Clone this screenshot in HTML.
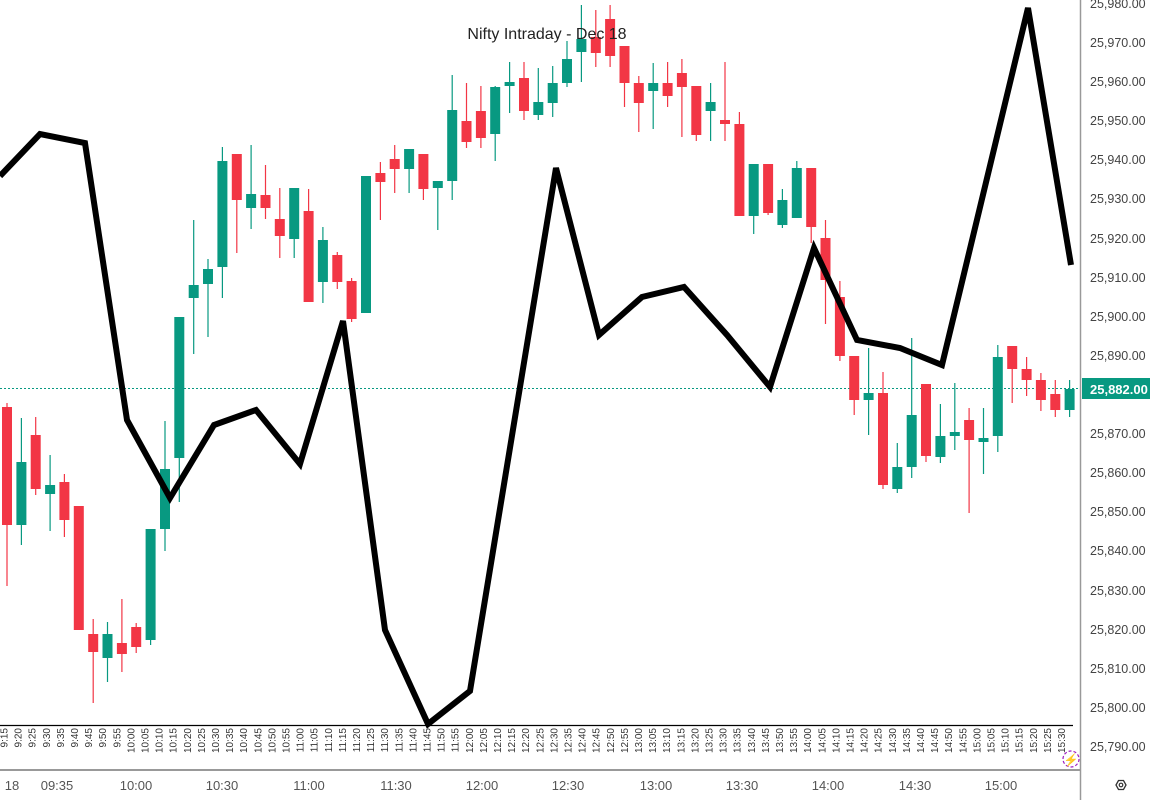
<!DOCTYPE html>
<html><head><meta charset="utf-8"><style>
html,body{margin:0;padding:0;background:#fff;width:1150px;height:800px;overflow:hidden}
svg{display:block;font-family:"Liberation Sans",sans-serif}
.r line{stroke:#F23645;stroke-width:1.2}.r rect{fill:#F23645}
.g line{stroke:#089981;stroke-width:1.2}.g rect{fill:#089981}
.ax{font-size:12.5px;fill:#444}
.rt{font-size:10px;fill:#333}
.bt{font-size:13px;fill:#555}
</style></head><body>
<svg width="1150" height="800" viewBox="0 0 1150 800" xmlns="http://www.w3.org/2000/svg">
<rect width="1150" height="800" fill="#fff"/>
<line x1="0" y1="388.5" x2="1080" y2="388.5" stroke="#089981" stroke-width="1" stroke-dasharray="2,2"/>
<g id="c"></g>
<g class="r"><line x1="7" y1="403" x2="7" y2="586"/><rect x="2" y="407" width="10" height="118"/></g>
<g class="g"><line x1="21.4" y1="418" x2="21.4" y2="545"/><rect x="16.4" y="462" width="10" height="63"/></g>
<g class="r"><line x1="35.7" y1="417" x2="35.7" y2="495"/><rect x="30.7" y="435" width="10" height="54"/></g>
<g class="g"><line x1="50.1" y1="455" x2="50.1" y2="531"/><rect x="45.1" y="485" width="10" height="9"/></g>
<g class="r"><line x1="64.4" y1="474" x2="64.4" y2="537"/><rect x="59.4" y="482" width="10" height="38"/></g>
<g class="r"><line x1="78.8" y1="506" x2="78.8" y2="630"/><rect x="73.8" y="506" width="10" height="124"/></g>
<g class="r"><line x1="93.2" y1="619" x2="93.2" y2="703"/><rect x="88.2" y="634" width="10" height="18"/></g>
<g class="g"><line x1="107.5" y1="622" x2="107.5" y2="682"/><rect x="102.5" y="634" width="10" height="24"/></g>
<g class="r"><line x1="121.9" y1="599" x2="121.9" y2="672"/><rect x="116.9" y="643" width="10" height="11"/></g>
<g class="r"><line x1="136.2" y1="623" x2="136.2" y2="653"/><rect x="131.2" y="627" width="10" height="20"/></g>
<g class="g"><line x1="150.6" y1="529" x2="150.6" y2="645"/><rect x="145.6" y="529" width="10" height="111"/></g>
<g class="g"><line x1="165" y1="421" x2="165" y2="551"/><rect x="160" y="469" width="10" height="60"/></g>
<g class="g"><line x1="179.3" y1="317" x2="179.3" y2="502"/><rect x="174.3" y="317" width="10" height="141"/></g>
<g class="g"><line x1="193.7" y1="220" x2="193.7" y2="354"/><rect x="188.7" y="285" width="10" height="13"/></g>
<g class="g"><line x1="208" y1="259" x2="208" y2="337"/><rect x="203" y="269" width="10" height="15"/></g>
<g class="g"><line x1="222.4" y1="147" x2="222.4" y2="298"/><rect x="217.4" y="161" width="10" height="106"/></g>
<g class="r"><line x1="236.8" y1="154" x2="236.8" y2="253"/><rect x="231.8" y="154" width="10" height="46"/></g>
<g class="g"><line x1="251.1" y1="145" x2="251.1" y2="229"/><rect x="246.1" y="194" width="10" height="14"/></g>
<g class="r"><line x1="265.5" y1="165" x2="265.5" y2="219"/><rect x="260.5" y="195" width="10" height="13"/></g>
<g class="r"><line x1="279.8" y1="188" x2="279.8" y2="258"/><rect x="274.8" y="219" width="10" height="17"/></g>
<g class="g"><line x1="294.2" y1="188" x2="294.2" y2="258"/><rect x="289.2" y="188" width="10" height="51"/></g>
<g class="r"><line x1="308.6" y1="189" x2="308.6" y2="302"/><rect x="303.6" y="211" width="10" height="91"/></g>
<g class="g"><line x1="322.9" y1="227" x2="322.9" y2="303"/><rect x="317.9" y="240" width="10" height="42"/></g>
<g class="r"><line x1="337.3" y1="252" x2="337.3" y2="289"/><rect x="332.3" y="255" width="10" height="27"/></g>
<g class="r"><line x1="351.6" y1="278" x2="351.6" y2="322"/><rect x="346.6" y="281" width="10" height="38"/></g>
<g class="g"><line x1="366" y1="176" x2="366" y2="313"/><rect x="361" y="176" width="10" height="137"/></g>
<g class="r"><line x1="380.4" y1="162" x2="380.4" y2="220"/><rect x="375.4" y="173" width="10" height="9"/></g>
<g class="r"><line x1="394.7" y1="145" x2="394.7" y2="193"/><rect x="389.7" y="159" width="10" height="10"/></g>
<g class="g"><line x1="409.1" y1="149" x2="409.1" y2="193"/><rect x="404.1" y="149" width="10" height="20"/></g>
<g class="r"><line x1="423.4" y1="154" x2="423.4" y2="200"/><rect x="418.4" y="154" width="10" height="35"/></g>
<g class="g"><line x1="437.8" y1="181" x2="437.8" y2="230"/><rect x="432.8" y="181" width="10" height="7"/></g>
<g class="g"><line x1="452.2" y1="75" x2="452.2" y2="200"/><rect x="447.2" y="110" width="10" height="71"/></g>
<g class="r"><line x1="466.5" y1="83" x2="466.5" y2="148"/><rect x="461.5" y="121" width="10" height="21"/></g>
<g class="r"><line x1="480.9" y1="86" x2="480.9" y2="148"/><rect x="475.9" y="111" width="10" height="27"/></g>
<g class="g"><line x1="495.2" y1="86" x2="495.2" y2="161"/><rect x="490.2" y="87" width="10" height="47"/></g>
<g class="g"><line x1="509.6" y1="62" x2="509.6" y2="113"/><rect x="504.6" y="82" width="10" height="4"/></g>
<g class="r"><line x1="524" y1="62" x2="524" y2="120"/><rect x="519" y="78" width="10" height="33"/></g>
<g class="g"><line x1="538.3" y1="68" x2="538.3" y2="120"/><rect x="533.3" y="102" width="10" height="13"/></g>
<g class="g"><line x1="552.7" y1="66" x2="552.7" y2="117"/><rect x="547.7" y="83" width="10" height="20"/></g>
<g class="g"><line x1="567" y1="41" x2="567" y2="87"/><rect x="562" y="59" width="10" height="24"/></g>
<g class="g"><line x1="581.4" y1="5" x2="581.4" y2="82"/><rect x="576.4" y="39" width="10" height="13"/></g>
<g class="r"><line x1="595.8" y1="10" x2="595.8" y2="67"/><rect x="590.8" y="37" width="10" height="16"/></g>
<g class="r"><line x1="610.1" y1="5" x2="610.1" y2="67"/><rect x="605.1" y="19" width="10" height="37"/></g>
<g class="r"><line x1="624.5" y1="46" x2="624.5" y2="107"/><rect x="619.5" y="46" width="10" height="37"/></g>
<g class="r"><line x1="638.8" y1="76" x2="638.8" y2="132"/><rect x="633.8" y="83" width="10" height="20"/></g>
<g class="g"><line x1="653.2" y1="63" x2="653.2" y2="129"/><rect x="648.2" y="83" width="10" height="8"/></g>
<g class="r"><line x1="667.6" y1="62" x2="667.6" y2="107"/><rect x="662.6" y="83" width="10" height="13"/></g>
<g class="r"><line x1="681.9" y1="59" x2="681.9" y2="137"/><rect x="676.9" y="73" width="10" height="14"/></g>
<g class="r"><line x1="696.3" y1="86" x2="696.3" y2="141"/><rect x="691.3" y="86" width="10" height="49"/></g>
<g class="g"><line x1="710.6" y1="83" x2="710.6" y2="141"/><rect x="705.6" y="102" width="10" height="9"/></g>
<g class="r"><line x1="725" y1="62" x2="725" y2="141"/><rect x="720" y="120" width="10" height="4"/></g>
<g class="r"><line x1="739.4" y1="112" x2="739.4" y2="216"/><rect x="734.4" y="124" width="10" height="92"/></g>
<g class="g"><line x1="753.7" y1="164" x2="753.7" y2="234"/><rect x="748.7" y="164" width="10" height="52"/></g>
<g class="r"><line x1="768.1" y1="164" x2="768.1" y2="215"/><rect x="763.1" y="164" width="10" height="49"/></g>
<g class="g"><line x1="782.4" y1="189" x2="782.4" y2="228"/><rect x="777.4" y="200" width="10" height="25"/></g>
<g class="g"><line x1="796.8" y1="161" x2="796.8" y2="218"/><rect x="791.8" y="168" width="10" height="50"/></g>
<g class="r"><line x1="811.2" y1="168" x2="811.2" y2="243"/><rect x="806.2" y="168" width="10" height="59"/></g>
<g class="r"><line x1="825.5" y1="220" x2="825.5" y2="324"/><rect x="820.5" y="238" width="10" height="42"/></g>
<g class="r"><line x1="839.9" y1="281" x2="839.9" y2="361"/><rect x="834.9" y="297" width="10" height="59"/></g>
<g class="r"><line x1="854.2" y1="356" x2="854.2" y2="415"/><rect x="849.2" y="356" width="10" height="44"/></g>
<g class="g"><line x1="868.6" y1="348" x2="868.6" y2="435"/><rect x="863.6" y="393" width="10" height="7"/></g>
<g class="r"><line x1="883" y1="372" x2="883" y2="489"/><rect x="878" y="393" width="10" height="92"/></g>
<g class="g"><line x1="897.3" y1="443" x2="897.3" y2="493"/><rect x="892.3" y="467" width="10" height="22"/></g>
<g class="g"><line x1="911.7" y1="338" x2="911.7" y2="478"/><rect x="906.7" y="415" width="10" height="52"/></g>
<g class="r"><line x1="926" y1="384" x2="926" y2="462"/><rect x="921" y="384" width="10" height="72"/></g>
<g class="g"><line x1="940.4" y1="404" x2="940.4" y2="463"/><rect x="935.4" y="436" width="10" height="21"/></g>
<g class="g"><line x1="954.8" y1="383" x2="954.8" y2="450"/><rect x="949.8" y="432" width="10" height="4"/></g>
<g class="r"><line x1="969.1" y1="408" x2="969.1" y2="513"/><rect x="964.1" y="420" width="10" height="20"/></g>
<g class="g"><line x1="983.5" y1="408" x2="983.5" y2="474"/><rect x="978.5" y="438" width="10" height="4"/></g>
<g class="g"><line x1="997.8" y1="345" x2="997.8" y2="452"/><rect x="992.8" y="357" width="10" height="79"/></g>
<g class="r"><line x1="1012.2" y1="346" x2="1012.2" y2="403"/><rect x="1007.2" y="346" width="10" height="23"/></g>
<g class="r"><line x1="1026.6" y1="357" x2="1026.6" y2="396"/><rect x="1021.6" y="369" width="10" height="11"/></g>
<g class="r"><line x1="1040.9" y1="373" x2="1040.9" y2="411"/><rect x="1035.9" y="380" width="10" height="20"/></g>
<g class="r"><line x1="1055.3" y1="380" x2="1055.3" y2="417"/><rect x="1050.3" y="394" width="10" height="16"/></g>
<g class="g"><line x1="1069.6" y1="380" x2="1069.6" y2="417"/><rect x="1064.6" y="389" width="10" height="21"/></g>

<polyline points="0,176 40,134 85,143 127,420 170,498 214,425 256,410 300,464 343,321 385,630 428,724 470,691 556,168 599,335 642,297 684,287 727,335 770,387 814,248 857,340 900,348 942,365 1028,8 1071,265" fill="none" stroke="#000" stroke-width="6" stroke-linejoin="miter"/>

<text x="547" y="39" text-anchor="middle" font-size="16" fill="#222">Nifty Intraday - Dec 18</text>

<line x1="0" y1="725.5" x2="1073" y2="725.5" stroke="#000" stroke-width="1.2"/>
<line x1="0" y1="770" x2="1080" y2="770" stroke="#999" stroke-width="2"/>
<line x1="1080.5" y1="0" x2="1080.5" y2="800" stroke="#999" stroke-width="1.5"/>

<g class="ax">
<text x="1090" y="8">25,980.00</text><text x="1090" y="47">25,970.00</text><text x="1090" y="86">25,960.00</text><text x="1090" y="125">25,950.00</text><text x="1090" y="164">25,940.00</text><text x="1090" y="203">25,930.00</text><text x="1090" y="243">25,920.00</text><text x="1090" y="282">25,910.00</text><text x="1090" y="321">25,900.00</text><text x="1090" y="360">25,890.00</text><text x="1090" y="438">25,870.00</text><text x="1090" y="477">25,860.00</text><text x="1090" y="516">25,850.00</text><text x="1090" y="555">25,840.00</text><text x="1090" y="595">25,830.00</text><text x="1090" y="634">25,820.00</text><text x="1090" y="673">25,810.00</text><text x="1090" y="712">25,800.00</text><text x="1090" y="751">25,790.00</text>
</g>
<rect x="1082" y="378" width="68" height="21" fill="#089981"/>
<text x="1090" y="394" font-size="13" font-weight="bold" fill="#fff">25,882.00</text>

<g class="rt">
<text transform="translate(7.5,728) rotate(-90)" text-anchor="end">9:15</text>
<text transform="translate(21.6,728) rotate(-90)" text-anchor="end">9:20</text>
<text transform="translate(35.7,728) rotate(-90)" text-anchor="end">9:25</text>
<text transform="translate(49.8,728) rotate(-90)" text-anchor="end">9:30</text>
<text transform="translate(63.9,728) rotate(-90)" text-anchor="end">9:35</text>
<text transform="translate(78,728) rotate(-90)" text-anchor="end">9:40</text>
<text transform="translate(92.1,728) rotate(-90)" text-anchor="end">9:45</text>
<text transform="translate(106.2,728) rotate(-90)" text-anchor="end">9:50</text>
<text transform="translate(120.3,728) rotate(-90)" text-anchor="end">9:55</text>
<text transform="translate(134.4,728) rotate(-90)" text-anchor="end">10:00</text>
<text transform="translate(148.5,728) rotate(-90)" text-anchor="end">10:05</text>
<text transform="translate(162.6,728) rotate(-90)" text-anchor="end">10:10</text>
<text transform="translate(176.7,728) rotate(-90)" text-anchor="end">10:15</text>
<text transform="translate(190.8,728) rotate(-90)" text-anchor="end">10:20</text>
<text transform="translate(204.9,728) rotate(-90)" text-anchor="end">10:25</text>
<text transform="translate(219,728) rotate(-90)" text-anchor="end">10:30</text>
<text transform="translate(233.1,728) rotate(-90)" text-anchor="end">10:35</text>
<text transform="translate(247.2,728) rotate(-90)" text-anchor="end">10:40</text>
<text transform="translate(261.3,728) rotate(-90)" text-anchor="end">10:45</text>
<text transform="translate(275.4,728) rotate(-90)" text-anchor="end">10:50</text>
<text transform="translate(289.5,728) rotate(-90)" text-anchor="end">10:55</text>
<text transform="translate(303.6,728) rotate(-90)" text-anchor="end">11:00</text>
<text transform="translate(317.7,728) rotate(-90)" text-anchor="end">11:05</text>
<text transform="translate(331.8,728) rotate(-90)" text-anchor="end">11:10</text>
<text transform="translate(345.9,728) rotate(-90)" text-anchor="end">11:15</text>
<text transform="translate(360,728) rotate(-90)" text-anchor="end">11:20</text>
<text transform="translate(374.1,728) rotate(-90)" text-anchor="end">11:25</text>
<text transform="translate(388.2,728) rotate(-90)" text-anchor="end">11:30</text>
<text transform="translate(402.3,728) rotate(-90)" text-anchor="end">11:35</text>
<text transform="translate(416.4,728) rotate(-90)" text-anchor="end">11:40</text>
<text transform="translate(430.5,728) rotate(-90)" text-anchor="end">11:45</text>
<text transform="translate(444.6,728) rotate(-90)" text-anchor="end">11:50</text>
<text transform="translate(458.7,728) rotate(-90)" text-anchor="end">11:55</text>
<text transform="translate(472.8,728) rotate(-90)" text-anchor="end">12:00</text>
<text transform="translate(486.9,728) rotate(-90)" text-anchor="end">12:05</text>
<text transform="translate(501,728) rotate(-90)" text-anchor="end">12:10</text>
<text transform="translate(515.1,728) rotate(-90)" text-anchor="end">12:15</text>
<text transform="translate(529.2,728) rotate(-90)" text-anchor="end">12:20</text>
<text transform="translate(543.3,728) rotate(-90)" text-anchor="end">12:25</text>
<text transform="translate(557.4,728) rotate(-90)" text-anchor="end">12:30</text>
<text transform="translate(571.5,728) rotate(-90)" text-anchor="end">12:35</text>
<text transform="translate(585.6,728) rotate(-90)" text-anchor="end">12:40</text>
<text transform="translate(599.7,728) rotate(-90)" text-anchor="end">12:45</text>
<text transform="translate(613.8,728) rotate(-90)" text-anchor="end">12:50</text>
<text transform="translate(627.9,728) rotate(-90)" text-anchor="end">12:55</text>
<text transform="translate(642,728) rotate(-90)" text-anchor="end">13:00</text>
<text transform="translate(656.1,728) rotate(-90)" text-anchor="end">13:05</text>
<text transform="translate(670.2,728) rotate(-90)" text-anchor="end">13:10</text>
<text transform="translate(684.3,728) rotate(-90)" text-anchor="end">13:15</text>
<text transform="translate(698.4,728) rotate(-90)" text-anchor="end">13:20</text>
<text transform="translate(712.5,728) rotate(-90)" text-anchor="end">13:25</text>
<text transform="translate(726.6,728) rotate(-90)" text-anchor="end">13:30</text>
<text transform="translate(740.7,728) rotate(-90)" text-anchor="end">13:35</text>
<text transform="translate(754.8,728) rotate(-90)" text-anchor="end">13:40</text>
<text transform="translate(768.9,728) rotate(-90)" text-anchor="end">13:45</text>
<text transform="translate(783,728) rotate(-90)" text-anchor="end">13:50</text>
<text transform="translate(797.1,728) rotate(-90)" text-anchor="end">13:55</text>
<text transform="translate(811.2,728) rotate(-90)" text-anchor="end">14:00</text>
<text transform="translate(825.3,728) rotate(-90)" text-anchor="end">14:05</text>
<text transform="translate(839.4,728) rotate(-90)" text-anchor="end">14:10</text>
<text transform="translate(853.5,728) rotate(-90)" text-anchor="end">14:15</text>
<text transform="translate(867.6,728) rotate(-90)" text-anchor="end">14:20</text>
<text transform="translate(881.7,728) rotate(-90)" text-anchor="end">14:25</text>
<text transform="translate(895.8,728) rotate(-90)" text-anchor="end">14:30</text>
<text transform="translate(909.9,728) rotate(-90)" text-anchor="end">14:35</text>
<text transform="translate(924,728) rotate(-90)" text-anchor="end">14:40</text>
<text transform="translate(938.1,728) rotate(-90)" text-anchor="end">14:45</text>
<text transform="translate(952.2,728) rotate(-90)" text-anchor="end">14:50</text>
<text transform="translate(966.3,728) rotate(-90)" text-anchor="end">14:55</text>
<text transform="translate(980.4,728) rotate(-90)" text-anchor="end">15:00</text>
<text transform="translate(994.5,728) rotate(-90)" text-anchor="end">15:05</text>
<text transform="translate(1008.6,728) rotate(-90)" text-anchor="end">15:10</text>
<text transform="translate(1022.7,728) rotate(-90)" text-anchor="end">15:15</text>
<text transform="translate(1036.8,728) rotate(-90)" text-anchor="end">15:20</text>
<text transform="translate(1050.9,728) rotate(-90)" text-anchor="end">15:25</text>
<text transform="translate(1065,728) rotate(-90)" text-anchor="end">15:30</text>
</g>
<circle cx="1071" cy="759" r="8" fill="none" stroke="#a020c0" stroke-width="1.2" stroke-dasharray="3,2"/>
<text x="1071" y="764" text-anchor="middle" font-size="12" fill="#a020c0">⚡</text>

<g class="bt">
<text x="12" y="790" text-anchor="middle">18</text>
<text x="57" y="790" text-anchor="middle">09:35</text>
<text x="136" y="790" text-anchor="middle">10:00</text>
<text x="222" y="790" text-anchor="middle">10:30</text>
<text x="309" y="790" text-anchor="middle">11:00</text>
<text x="396" y="790" text-anchor="middle">11:30</text>
<text x="482" y="790" text-anchor="middle">12:00</text>
<text x="568" y="790" text-anchor="middle">12:30</text>
<text x="656" y="790" text-anchor="middle">13:00</text>
<text x="742" y="790" text-anchor="middle">13:30</text>
<text x="828" y="790" text-anchor="middle">14:00</text>
<text x="915" y="790" text-anchor="middle">14:30</text>
<text x="1001" y="790" text-anchor="middle">15:00</text>
</g>
<polygon points="1116,785 1118.5,780.5 1123.5,780.5 1126,785 1123.5,789.5 1118.5,789.5" fill="none" stroke="#333" stroke-width="1.3"/>
<circle cx="1121" cy="785" r="1.8" fill="none" stroke="#333" stroke-width="1.2"/>
</svg>
</body></html>
